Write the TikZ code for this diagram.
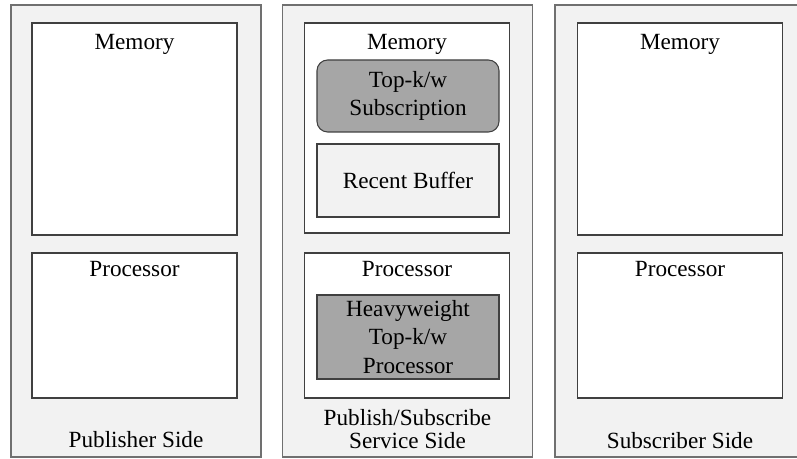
\documentclass[tikz,border=0pt]{standalone}
\usepackage{fontspec}
\setmainfont{Liberation Serif}
\usepackage{tikz}
\usetikzlibrary{positioning}
\definecolor{panelgray}{RGB}{242,242,242}
\definecolor{edgegray}{RGB}{112,112,112}
\definecolor{boxedge}{RGB}{64,64,64}
\definecolor{darkfill}{RGB}{166,166,166}

\begin{document}
\begin{tikzpicture}[
  x=0.75pt, y=-0.75pt,
  panel/.style={rectangle, draw=edgegray, line width=1.2pt, fill=panelgray,
                minimum width=187.5pt, minimum height=339pt, inner sep=0pt},
  membox/.style={rectangle, draw=boxedge, line width=0.8pt, fill=white,
                 minimum width=153.75pt, minimum height=159pt, inner sep=0pt},
  procbox/.style={rectangle, draw=boxedge, line width=0.8pt, fill=white,
                  minimum width=153.75pt, minimum height=108.75pt, inner sep=0pt},
  subbox/.style={rectangle, draw=boxedge, line width=0.8pt,
                 minimum width=136.5pt, inner sep=0pt, align=center},
  lbl/.style={inner sep=0pt, align=center},
  every node/.style={font=\fontsize{17.4}{21.5}\selectfont}
]
  \useasboundingbox (0,0) rectangle (797,459);
  \clip (0,0) rectangle (797,459);

  %% -- Publisher side
  \node[panel]  (pubP)   at (136,231)   {};
  \node[membox] (pubM)   at (134.5,129) {};
  \node[procbox] (pubC)  at (134.5,325.5) {};
  \node[lbl] (pubMt) at (134.5,44)  {Memory};
  \node[lbl] (pubCt) at (134.5,269) {Processor};
  \node[lbl] (pubPt) at (136,440)   {Publisher Side};

  %% -- Publish/Subscribe service side
  \node[panel]  (srvP)   at (407.5,231) {};
  \node[membox, minimum height=157.5pt] (srvM) at (407,128) {};
  \node[procbox] (srvC)  at (407,325.5) {};
  \node[lbl] (srvMt) at (407,44)  {Memory};
  \node[lbl] (srvCt) at (407,269) {Processor};
  \node[subbox, fill=darkfill, rounded corners=8pt, minimum height=54pt]
    (topk) at (408,96) {Top-k/w\\Subscription};
  \node[subbox, fill=panelgray, minimum height=54.75pt]
    (recent) at (408,180.5) {Recent Buffer};
  \node[subbox, fill=darkfill, minimum height=63pt]
    (heavy) at (408,337) {Heavyweight\\Top-k/w\\Processor};
  \node[lbl, font=\fontsize{17.4}{17.5}\selectfont]
    (srvPt) at (407.5,429) {Publish/Subscribe\\Service Side};

  %% -- Subscriber side (cut at the right edge)
  \node[panel]  (subP)   at (680,231)   {};
  \node[membox] (subM)   at (680,129)   {};
  \node[procbox] (subC)  at (680,325.5) {};
  \node[lbl] (subMt) at (680,44)  {Memory};
  \node[lbl] (subCt) at (680,269) {Processor};
  \node[lbl] (subPt) at (680,441) {Subscriber Side};

\end{tikzpicture}
\end{document}
